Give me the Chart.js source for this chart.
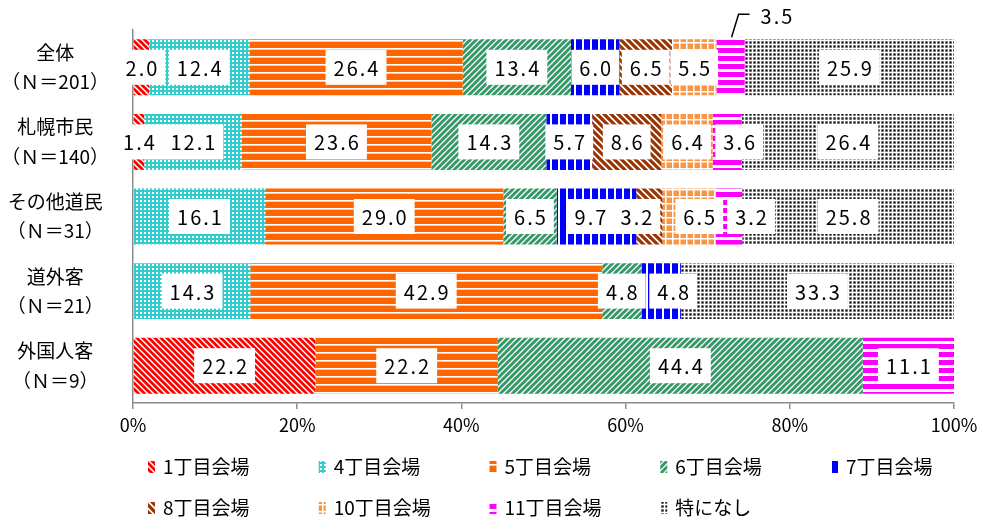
<!DOCTYPE html>
<html lang="ja">
<head>
<meta charset="utf-8">
<script src="https://cdn.jsdelivr.net/npm/chart.js@4.4.1/dist/chart.umd.min.js"></script>
<style>
  html, body { margin: 0; padding: 0; background: #fff; }
  #wrap { width: 981px; height: 523px; position: relative; }
</style>
</head>
<body>
<div id="wrap"><canvas id="chart"></canvas></div>
<script>
// categories (top to bottom) and sample sizes
const categories = ['全体', '札幌市民', 'その他道民', '道外客', '外国人客'];
const sampleSizes = [201, 140, 31, 21, 9];

// series names
const seriesNames = ['1丁目会場', '4丁目会場', '5丁目会場', '6丁目会場', '7丁目会場',
                     '8丁目会場', '10丁目会場', '11丁目会場', '特になし'];

// values per series, one per category (%)
const venue1  = [2.0, 1.4, 0, 0, 22.2];
const venue4  = [12.4, 12.1, 16.1, 14.3, 0];
const venue5  = [26.4, 23.6, 29.0, 42.9, 22.2];
const venue6  = [13.4, 14.3, 6.5, 4.8, 44.4];
const venue7  = [6.0, 5.7, 9.7, 4.8, 0];
const venue8  = [6.5, 8.6, 3.2, 0, 0];
const venue10 = [5.5, 6.4, 6.5, 0, 0];
const venue11 = [3.5, 3.6, 3.2, 0, 11.1];
const nothing = [25.9, 26.4, 25.8, 33.3, 0];

const xTicks = [0, 20, 40, 60, 80, 100];

const seriesValues = [venue1, venue4, venue5, venue6, venue7, venue8, venue10, venue11, nothing];

// 100% stacked: normalise each category by its total
const totals = categories.map((_, i) => seriesValues.reduce((s, arr) => s + arr[i], 0));

const makePattern = (size, bg, draw) => {
    const c = document.createElement('canvas');
    c.width = size;
    c.height = size;
    const g = c.getContext('2d');
    g.fillStyle = bg;
    g.fillRect(0, 0, size, size);
    draw(g, size);
    return g.createPattern(c, 'repeat');
};

const diag = (color, width, back) => (g, s) => {
    g.strokeStyle = color;
    g.lineWidth = width;
    g.beginPath();
    if (back) {
        g.moveTo(-s, 0); g.lineTo(s, 2 * s);
        g.moveTo(0, 0); g.lineTo(s, s);
        g.moveTo(0, -s); g.lineTo(2 * s, s);
    } else {
        g.moveTo(0, s); g.lineTo(s, 0);
        g.moveTo(-s, s); g.lineTo(s, -s);
        g.moveTo(0, 2 * s); g.lineTo(2 * s, 0);
    }
    g.stroke();
};

const patterns = [
    makePattern(6, '#ff0000', diag('#ffffff', 1.4, true)),
    makePattern(4, '#33cccc', (g) => {
        g.fillStyle = '#ffffff';
        g.fillRect(0, 0, 2, 2);
    }),
    makePattern(8, '#ff6600', (g) => {
        g.fillStyle = '#ffffff';
        g.fillRect(0, 0, 8, 1);
        g.fillStyle = '#ffc8a0';
        g.fillRect(0, 1, 8, 1);
    }),
    makePattern(6, '#ffffff', diag('#339966', 3, false)),
    makePattern(8, '#0000ff', (g) => {
        g.fillStyle = '#ffffff';
        g.fillRect(6, 0, 2, 8);
    }),
    makePattern(7, '#ffffff', diag('#993300', 3.2, true)),
    makePattern(7, '#f79646', (g) => {
        g.fillStyle = '#ffffff';
        g.fillRect(0, 0, 7, 1.5);
        g.fillRect(0, 0, 1.5, 7);
    }),
    makePattern(8, '#ffffff', (g) => {
        g.fillStyle = '#ff00ff';
        g.fillRect(0, 0, 8, 5);
    }),
    makePattern(4, '#ffffff', (g) => {
        g.fillStyle = '#bbbbbb';
        g.fillRect(0, 0, 4, 4);
        g.fillStyle = '#ffffff';
        g.fillRect(0, 0, 4, 1);
        g.fillRect(0, 0, 1, 4);
        g.fillStyle = '#111111';
        g.fillRect(1.5, 1.5, 2, 2);
    })
];

Chart.defaults.font.family = '"Noto Sans CJK JP", "Noto Sans", sans-serif';
Chart.defaults.color = '#000';

// small nudges for crowded labels (dataset index, category index -> dx)
const labelNudge = { '7,1': 12, '5,2': -13, '4,2': -6, '6,2': 10, '7,2': 22, '4,3': 12 };

const valueLabels = {
    id: 'valueLabels',
    afterDatasetsDraw(chart) {
        const ctx = chart.ctx;
        ctx.save();
        ctx.font = '20px "Noto Sans CJK JP"';
        ctx.letterSpacing = '2px';
        ctx.textAlign = 'center';
        ctx.textBaseline = 'middle';
        chart.data.datasets.forEach((ds, di) => {
            const meta = chart.getDatasetMeta(di);
            meta.data.forEach((bar, i) => {
                const v = seriesValues[di][i];
                if (!v) return;
                const txt = v.toFixed(1);
                const cx = (bar.x + bar.base) / 2;
                const cy = bar.y;
                if (di === 7 && i === 0) {
                    // label outside the bar with a leader line
                    const top = bar.y - bar.height / 2;
                    ctx.strokeStyle = '#000';
                    ctx.lineWidth = 1.5;
                    ctx.beginPath();
                    ctx.moveTo(cx + 1, top - 2);
                    ctx.lineTo(cx + 8, top - 25);
                    ctx.lineTo(cx + 19, top - 25);
                    ctx.stroke();
                    ctx.fillStyle = '#000';
                    ctx.textAlign = 'left';
                    ctx.fillText(txt, cx + 30, top - 23);
                    ctx.textAlign = 'center';
                    return;
                }
                const x = cx + (labelNudge[di + ',' + i] || 0);
                const w = ctx.measureText(txt).width + 14;
                const h = 35;
                ctx.fillStyle = '#ffffff';
                ctx.fillRect(x - w / 2, cy - h / 2, w, h);
                ctx.fillStyle = '#000';
                ctx.fillText(txt, x + 1, cy + 1);
            });
        });
        ctx.restore();
    }
};

const gridLegend = {
    id: 'gridLegend',
    afterDraw(chart) {
        const ctx = chart.ctx;
        const colW = 170.75;
        ctx.save();
        ctx.font = '19px "Noto Sans CJK JP"';
        ctx.textBaseline = 'middle';
        ctx.textAlign = 'left';
        chart.data.datasets.forEach((ds, i) => {
            const row = i < 5 ? 0 : 1;
            const col = i < 5 ? i : i - 5;
            const x = 148 + col * colW;
            const y = row === 0 ? 467 : 508;
            ctx.fillStyle = ds.backgroundColor;
            ctx.fillRect(x, y - 6, 7, 12);
            ctx.fillStyle = '#000';
            ctx.fillText(ds.label, x + 15, y);
        });
        ctx.restore();
    }
};

new Chart(document.getElementById('chart'), {
    type: 'bar',
    data: {
        labels: categories.map((c, i) => [c, '（Ｎ＝' + sampleSizes[i] + '）']),
        datasets: seriesNames.map((name, si) => ({
            label: name,
            data: seriesValues[si].map((v, i) => v / totals[i] * 100),
            backgroundColor: patterns[si],
            borderWidth: 0,
            categoryPercentage: 0.75,
            barPercentage: 1
        }))
    },
    options: {
        indexAxis: 'y',
        responsive: true,
        maintainAspectRatio: false,
        animation: false,
        layout: { padding: { top: 30, right: 27, bottom: 80, left: 0 } },
        plugins: {
            legend: { display: false },
            tooltip: { enabled: false }
        },
        scales: {
            x: {
                stacked: true,
                min: 0,
                max: 100,
                afterFit: (s) => { s.height = 40; s.paddingLeft = 0; s.paddingRight = 0; },
                afterBuildTicks: (s) => { s.ticks = xTicks.map(v => ({ value: v })); },
                ticks: {
                    callback: (v) => v + '%',
                    font: { size: 18 },
                    padding: 5,
                    maxRotation: 0
                },
                grid: { drawOnChartArea: false, drawTicks: true, tickLength: 6, color: '#8c8c8c', lineWidth: 1.5 },
                border: { color: '#8c8c8c', width: 1.5 }
            },
            y: {
                stacked: true,
                afterFit: (s) => { s.width = 133; s.paddingTop = 0; s.paddingBottom = 0; },
                ticks: {
                    crossAlign: 'center',
                    padding: 16,
                    font: { size: 19, lineHeight: 1.55 }
                },
                grid: { display: false },
                border: { color: '#8c8c8c', width: 1.5 }
            }
        }
    },
    plugins: [valueLabels, gridLegend]
});
</script>
</body>
</html>
